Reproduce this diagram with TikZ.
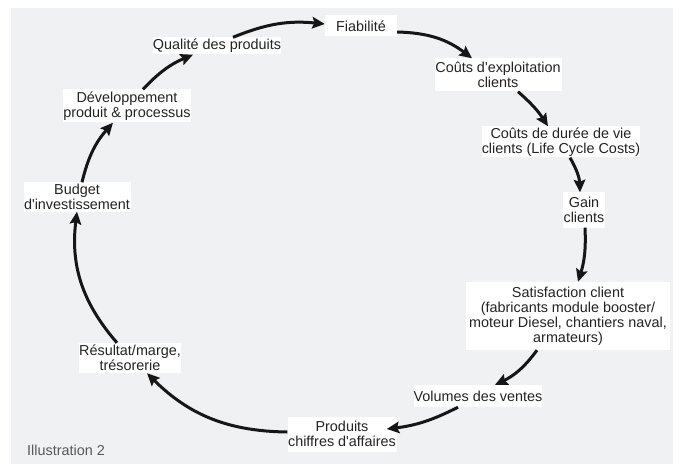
\documentclass[tikz,border=0pt]{standalone}
\usepackage{fontspec}
\setmainfont{Liberation Sans}
\usetikzlibrary{arrows.meta}
\definecolor{panel}{RGB}{240,241,243}
\definecolor{txt}{RGB}{35,35,35}
\definecolor{arr}{RGB}{22,22,22}
\newcommand{\ap}{\textquotesingle}
\tikzset{
  box/.style={fill=white, text=txt, align=center, inner sep=0pt,
    font=\fontsize{14.4pt}{15pt}\selectfont},
  flow/.style={draw=arr, line width=3pt,
    -{Stealth[length=12.5pt,width=11.5pt,inset=2pt]}},
}
\begin{document}
\begin{tikzpicture}[x=1pt,y=1pt]
\useasboundingbox (0,0) rectangle (679,464);
\fill[white] (0,0) rectangle (679,464);
\fill[panel] (11,0) rectangle (673,456);

\node[box, minimum width=72pt, minimum height=21pt] (fia) at (361,438) {Fiabilité};
\node[box, minimum width=125pt, minimum height=17pt] (qual) at (217,418) {Qualité des produits};
\node[box, minimum width=126pt, minimum height=33pt] (dev) at (127,358) {Développement\\produit \& processus};
\node[box, minimum width=107pt, minimum height=29pt] (bud) at (77,267) {Budget\\d\ap investissement};
\node[box, minimum width=98pt, minimum height=30pt] (res) at (130,106) {Résultat/marge,\\trésorerie};
\node[box, minimum width=109pt, minimum height=35pt] (prod) at (342,30) {Produits\\chiffres d\ap affaires};
\node[box, minimum width=125pt, minimum height=22pt] (vol) at (478,68) {Volumes des ventes};
\node[box, minimum width=204pt, minimum height=68pt] (sat) at (568,148) {Satisfaction client\\(fabricants module booster/\\moteur Diesel, chantiers naval,\\armateurs)};
\node[box, minimum width=42pt, minimum height=35pt] (gain) at (584,254) {Gain\\clients};
\node[box, minimum width=151pt, minimum height=31pt] (lcc) at (561,322) {Coûts de durée de vie\\clients (Life Cycle Costs)};
\node[box, minimum width=127pt, minimum height=33pt] (exp) at (498,389) {Coûts d\ap exploitation\\clients};

\node[anchor=west, text=black!65, inner sep=0pt, font=\fontsize{14.4pt}{15pt}\selectfont] (ill) at (27,14) {Illustration 2};

\draw[flow] ([xshift=16pt]qual.north) to[bend left=14] ([yshift=2pt]fia.west);
\draw[flow] ([yshift=-6pt]fia.east) to[bend left=18] ([xshift=-26pt]exp.north);
\draw[flow] ([xshift=20pt]exp.south) to[bend left=8] ([xshift=-13pt]lcc.north);
\draw[flow] ([xshift=9pt]lcc.south) to[bend left=14] ([xshift=-4pt]gain.north);
\draw[flow] ([xshift=1pt]gain.south) to[bend left=10] ([xshift=10pt]sat.north);
\draw[flow] ([xshift=-31pt]sat.south) to[bend left=14] ([xshift=17pt]vol.north);
\draw[flow] ([xshift=-20pt]vol.south) to[bend left=10] ([xshift=-10pt,yshift=5pt]prod.east);
\draw[flow] ([yshift=2pt]prod.west) to[bend left=22] ([xshift=17pt]res.south);
\draw[flow] ([xshift=-13pt]res.north) to[bend left=24] (bud.south);
\draw[flow] ([xshift=5pt]bud.north) to[bend left=14] ([xshift=-14pt]dev.south);
\draw[flow] ([xshift=16pt]dev.north) to[bend left=12] ([xshift=-24pt]qual.south);
\end{tikzpicture}
\end{document}
